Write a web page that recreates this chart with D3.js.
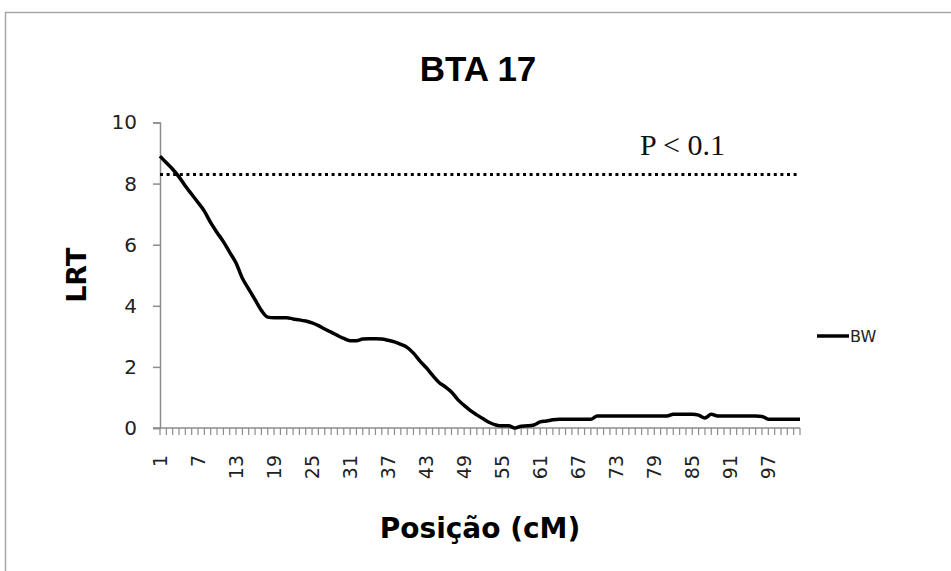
<!DOCTYPE html>
<html>
<head>
<meta charset="utf-8">
<script src="https://cdn.jsdelivr.net/npm/d3@7/dist/d3.min.js"></script>
<style>
  html, body { margin: 0; padding: 0; background: #fff; }
  svg { display: block; }
</style>
</head>
<body>
<svg id="chart" width="951" height="571"></svg>
<script>
// Map positions (cM) along BTA 17
const positions = d3.range(1, 103);

// LRT profile for body weight (BW), one value per position
const lrtBW = [
  8.90, 8.68, 8.47, 8.22, 7.92, 7.65, 7.38, 7.10, 6.72, 6.40,
  6.10, 5.75, 5.40, 4.90, 4.55, 4.20, 3.85, 3.63, 3.61, 3.61,
  3.61, 3.57, 3.54, 3.50, 3.44, 3.35, 3.24, 3.14, 3.03, 2.93,
  2.86, 2.86, 2.91, 2.92, 2.92, 2.91, 2.87, 2.82, 2.74, 2.64,
  2.45, 2.20, 1.98, 1.73, 1.50, 1.35, 1.18, 0.93, 0.74, 0.57,
  0.43, 0.30, 0.18, 0.10, 0.07, 0.07, 0.00, 0.06, 0.07, 0.10,
  0.20, 0.23, 0.27, 0.29, 0.29, 0.29, 0.29, 0.29, 0.29, 0.39,
  0.39, 0.39, 0.39, 0.39, 0.39, 0.39, 0.39, 0.39, 0.39, 0.39,
  0.39, 0.45, 0.45, 0.45, 0.45, 0.42, 0.33, 0.45, 0.39, 0.39,
  0.39, 0.39, 0.39, 0.39, 0.39, 0.38, 0.29, 0.29, 0.29, 0.29,
  0.29, 0.29
];

// Significance threshold (P < 0.1)
const threshold = 8.3;
const thresholdLabel = "P < 0.1";

// Axis ticks
const yTicks = [0, 2, 4, 6, 8, 10];
const xTickLabels = d3.range(1, 103, 6);

const chartTitle = "BTA 17";
const xTitle = "Posição (cM)";
const yTitle = "LRT";
const seriesName = "BW";

const svg = d3.select("#chart");
const axisColor = "#8c8c8c";
const labelFont = "'DejaVu Sans', Verdana, sans-serif";

// Outer frame
svg.append("rect")
  .attr("x", 5.5).attr("y", 12.5)
  .attr("width", 1000).attr("height", 1000)
  .attr("fill", "#fff")
  .attr("stroke", "#a6a6a6").attr("stroke-width", 1.5);

const plot = { left: 160, right: 800, top: 122.5, bottom: 428 };

// Positions sit on the tick marks, first at the value axis, last at the right end
const x = d3.scalePoint()
  .domain(positions)
  .range([plot.left, plot.right]);

const y = d3.scaleLinear()
  .domain([0, 10])
  .range([plot.bottom, plot.top]);

// Y axis
const yAxis = svg.append("g")
  .attr("transform", `translate(${plot.left},0)`)
  .call(d3.axisLeft(y).tickValues(yTicks).tickSize(7).tickPadding(16).tickFormat(d3.format("d")));
yAxis.select(".domain").attr("stroke", axisColor).attr("stroke-width", 1.5);
yAxis.selectAll(".tick line").attr("stroke", axisColor).attr("stroke-width", 1.5);
yAxis.selectAll(".tick text")
  .attr("font-family", labelFont).attr("font-size", 20).attr("fill", "#222");

// X axis: one tick per position, labels every 6 cM
const xAxis = svg.append("g").attr("transform", `translate(0,${plot.bottom})`);
xAxis.append("line")
  .attr("x1", plot.left - 7).attr("x2", plot.right)
  .attr("stroke", axisColor).attr("stroke-width", 1.5);
xAxis.selectAll("line.tick")
  .data(positions)
  .join("line")
  .attr("class", "tick")
  .attr("x1", d => x(d)).attr("x2", d => x(d))
  .attr("y1", 0).attr("y2", 7)
  .attr("stroke", axisColor).attr("stroke-width", 1.2);
xAxis.selectAll("text")
  .data(xTickLabels)
  .join("text")
  .attr("transform", d => `translate(${x(d)},${27}) rotate(-90)`)
  .attr("text-anchor", "end")
  .attr("dy", "0.35em")
  .attr("font-family", labelFont).attr("font-size", 19).attr("fill", "#222")
  .text(d => d);

// Threshold line
svg.append("line")
  .attr("x1", plot.left).attr("x2", plot.right)
  .attr("y1", y(threshold)).attr("y2", y(threshold))
  .attr("stroke", "#000").attr("stroke-width", 3)
  .attr("stroke-dasharray", "3,3.6");

svg.append("text")
  .attr("x", 640).attr("y", 155)
  .attr("font-family", "'Liberation Serif', 'Times New Roman', serif")
  .attr("font-size", 30).attr("fill", "#111")
  .text(thresholdLabel);

// LRT curve
const line = d3.line()
  .x((d, i) => x(positions[i]))
  .y(d => y(d))
  .curve(d3.curveMonotoneX);

svg.append("path")
  .datum(lrtBW)
  .attr("fill", "none")
  .attr("stroke", "#000")
  .attr("stroke-width", 3.5)
  .attr("stroke-linejoin", "round")
  .attr("d", line);

// Titles
svg.append("text")
  .attr("x", 478).attr("y", 81)
  .attr("text-anchor", "middle")
  .attr("font-family", "'Liberation Sans', Arial, sans-serif").attr("font-weight", "bold")
  .attr("font-size", 35).attr("fill", "#000")
  .text(chartTitle);

svg.append("text")
  .attr("transform", `translate(86,${(plot.top + plot.bottom) / 2}) rotate(-90)`)
  .attr("text-anchor", "middle")
  .attr("font-family", labelFont).attr("font-weight", "bold")
  .attr("font-size", 27).attr("fill", "#000")
  .text(yTitle);

svg.append("text")
  .attr("x", 480).attr("y", 538)
  .attr("text-anchor", "middle")
  .attr("font-family", labelFont).attr("font-weight", "bold")
  .attr("font-size", 28).attr("fill", "#000")
  .text(xTitle);

// Legend
const legend = svg.append("g").attr("transform", "translate(817,336)");
legend.append("line")
  .attr("x1", 0).attr("x2", 32)
  .attr("stroke", "#000").attr("stroke-width", 3.5);
legend.append("text")
  .attr("x", 33).attr("dy", "0.35em")
  .attr("font-family", labelFont).attr("font-size", 16).attr("fill", "#222")
  .text(seriesName);
</script>
</body>
</html>
